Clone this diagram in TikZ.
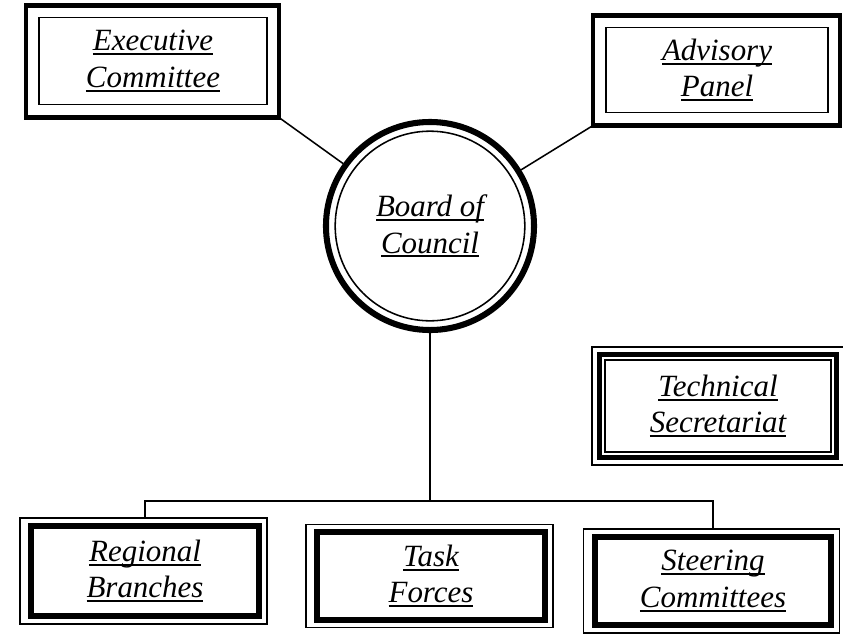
\documentclass[tikz,border=0pt]{standalone}
\usepackage{fontspec}
\setmainfont{Liberation Serif}
\usetikzlibrary{calc}
\newcommand{\undl}[1]{\setbox0\hbox{#1}\rlap{\vrule width\wd0 height -0.08em depth 0.14em}\box0}

\begin{document}
\begin{tikzpicture}[x=0.025cm,y=-0.025cm,
  txt/.style={font=\fontsize{22}{26}\selectfont\itshape,align=center,inner sep=0pt},
  topbox/.style={txt,draw,line width=1.1pt,minimum width=5.7cm,minimum height=2.18cm},
  lowbox/.style={txt,draw,line width=4.2pt,minimum width=5.7cm,minimum height=2.25cm},
  heavy/.style={line width=3.2pt},
  light/.style={line width=1.1pt},
  link/.style={line width=1.1pt}]
\useasboundingbox (0,0) rectangle (843,634);

% upper boxes: thin inside, heavy frame outside
\node[topbox] (exec) at (153,61) {\undl{Executive}\\\undl{Committee}};
\node[topbox,minimum width=5.55cm,minimum height=2.13cm] (advisory) at (717,70) {\undl{Advisory}\\\undl{Panel}};
\foreach \n in {exec,advisory}
  \draw[heavy] ($(\n.north west)+(-12,-11)$) coordinate (\n-nw)
    rectangle ($(\n.south east)+(11,12)$) coordinate (\n-se);
\coordinate (advisory-sw) at (advisory-nw |- advisory-se);

% the board
\node[txt,circle,draw,line width=4.3pt,minimum size=5.2cm] (board) at (430,226) {\undl{Board of}\\\undl{Council}};
\draw[light] (board.center) circle (2.37cm);

% secretariat: three frames
\node[txt,draw,line width=3.4pt,minimum width=5.92cm,minimum height=2.57cm] (techsec) at (718,406) {\undl{Technical}\\\undl{Secretariat}};
\draw[light] ($(techsec.north west)+(-5,-5)$) rectangle ($(techsec.south east)+(5,5)$);
\draw[light] ($(techsec.north west)+(8,8)$) rectangle ($(techsec.south east)+(-8,-8)$);

% lower boxes: heavy inside, thin frame outside
\node[lowbox] (regional) at (145,571) {\undl{Regional}\\\undl{Branches}};
\node[lowbox,minimum height=2.18cm] (task) at (431,576) {\undl{Task}\\\undl{Forces}};
\node[lowbox,minimum width=5.92cm,minimum height=2.2cm] (steering) at (713,581) {\undl{Steering}\\\undl{Committees}};
\foreach \n in {regional,task,steering}{
  \draw[light] ($(\n.north west)+(-8,-5)$) rectangle ($(\n.south east)+(5,5)$);
  \coordinate (\n-top) at ($(\n.north)+(0,-5)$);
}

% connectors
\draw[link] (exec-se) -- (board);
\draw[link] (advisory-sw) -- (board);
\draw[link] (regional-top) -- ++(0,-17) coordinate (bus) -| (steering-top);
\draw[link] (board.south) -- (board.south |- bus);

\end{tikzpicture}
\end{document}
